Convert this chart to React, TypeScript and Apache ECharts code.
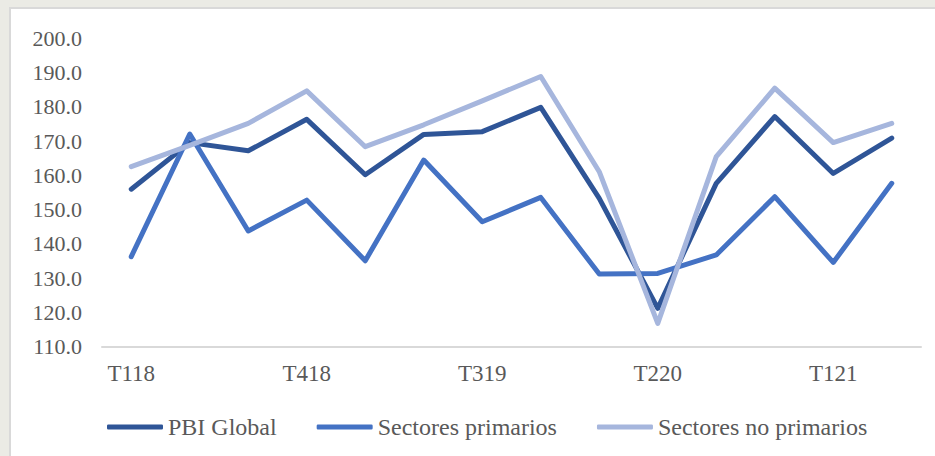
import React, { useEffect, useRef } from "react";
import * as echarts from "echarts";

const categories = ["T118", "T218", "T318", "T418", "T119", "T219", "T319", "T419", "T120", "T220", "T320", "T420", "T121", "T221"];
const pbiGlobal = [156.0, 169.6, 167.2, 176.4, 160.2, 172.0, 172.8, 179.9, 153.3, 121.2, 157.7, 177.2, 160.6, 170.9];
const sectoresPrimarios = [136.3, 172.1, 143.8, 152.8, 135.1, 164.5, 146.5, 153.6, 131.2, 131.4, 136.8, 153.8, 134.6, 157.7];
const sectoresNoPrimarios = [162.6, 168.8, 175.2, 184.7, 168.4, 174.8, 181.8, 188.9, 161.1, 116.8, 165.5, 185.5, 169.6, 175.2];
const seriesNames = ["PBI Global", "Sectores primarios", "Sectores no primarios"];
const colors = ["#2F5597", "#4472C4", "#A6B6DD"];

const FONT = "'Liberation Serif', serif";

export default function App() {
  const ref = useRef<HTMLDivElement>(null);
  useEffect(() => {
    const chart = echarts.init(ref.current!, undefined, { renderer: "svg" });
    const data = [pbiGlobal, sectoresPrimarios, sectoresNoPrimarios];
    chart.setOption({
      animation: false,
      backgroundColor: "#ebebe5",
      graphic: [
        {
          type: "rect",
          z: -10,
          silent: true,
          shape: { x: 10, y: 8, width: 940, height: 460 },
          style: { fill: "#ffffff", stroke: "#d9d9d9", lineWidth: 2 },
        },
      ],
      grid: { left: 102, right: 14, top: 38.5, bottom: 109.3, containLabel: false },
      legend: {
        left: 102,
        top: 410,
        itemWidth: 56,
        itemHeight: 5,
        itemGap: 40,
        icon: "roundRect",
        textStyle: { fontFamily: FONT, fontSize: 24, color: "#595959" },
        data: seriesNames,
      },
      xAxis: {
        type: "category",
        data: categories,
        boundaryGap: true,
        axisLine: { lineStyle: { color: "#d9d9d9", width: 2 } },
        axisTick: { show: false },
        axisLabel: { interval: 2, margin: 15, fontFamily: FONT, fontSize: 23, color: "#595959" },
      },
      yAxis: {
        type: "value",
        min: 110,
        max: 200,
        interval: 10,
        splitLine: { show: false },
        axisLine: { show: false },
        axisTick: { show: false },
        axisLabel: {
          margin: 20,
          fontFamily: FONT,
          fontSize: 22,
          color: "#595959",
          formatter: (v: number) => v.toFixed(1),
        },
      },
      series: seriesNames.map((name, i) => ({
        name,
        type: "line",
        data: data[i],
        symbol: "none",
        color: colors[i],
        itemStyle: { color: colors[i] },
        lineStyle: { color: colors[i], width: 5, cap: "round", join: "round" },
      })),
    });
    return () => chart.dispose();
  }, []);
  return (
    <div
      ref={ref}
      style={{ position: "fixed", left: 0, top: 0, width: 935, height: 456 }}
    />
  );
}
